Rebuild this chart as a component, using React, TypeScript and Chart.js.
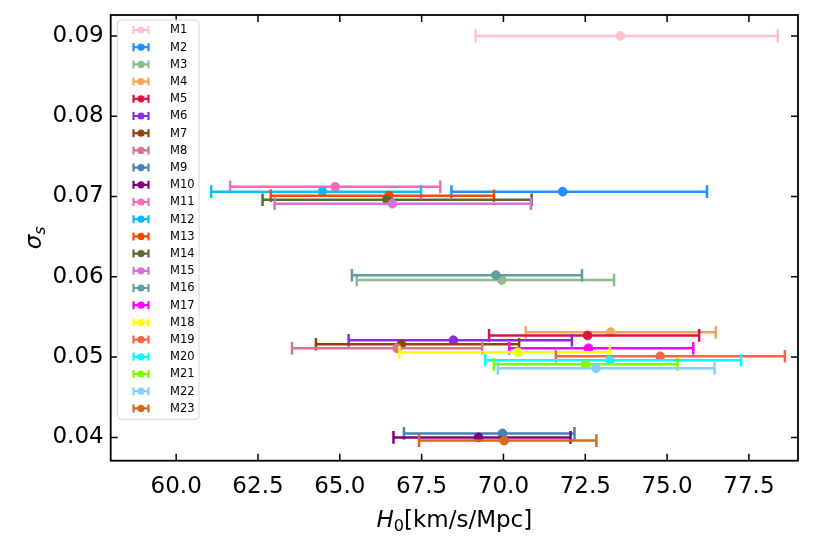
import { useEffect, useRef } from "react";
import { Chart, registerables } from "chart.js";

Chart.register(...registerables);

const labels = ["M1","M2","M3","M4","M5","M6","M7","M8","M9","M10","M11","M12","M13","M14","M15","M16","M17","M18","M19","M20","M21","M22","M23"];
const h0Values = [73.57,71.81,69.95,73.28,72.57,68.47,66.88,66.75,69.97,69.24,64.86,64.47,66.50,66.44,66.61,69.77,72.60,70.44,74.79,73.25,72.51,72.83,70.02];
const h0Lower = [69.15,68.41,65.52,70.68,69.56,65.27,64.27,63.54,66.96,66.64,61.65,61.07,62.89,62.64,63.01,65.37,70.18,66.82,71.60,69.44,69.71,69.83,67.42];
const h0Upper = [78.38,76.22,73.38,76.49,75.98,72.09,70.48,69.35,72.17,72.05,68.07,67.48,69.71,70.86,70.84,72.40,75.80,73.25,78.60,77.26,75.32,76.45,72.84];
const sigmaValues = [0.0900,0.0706,0.0596,0.0531,0.0527,0.0521,0.0516,0.0511,0.0405,0.0400,0.0712,0.0706,0.0701,0.0696,0.0691,0.0602,0.0511,0.0506,0.0501,0.0496,0.0491,0.0486,0.0396];
const colors = ["#FFC0CB","#1E90FF","#8FBC8F","#F4A460","#DC143C","#8A2BE2","#8B4513","#DB7093","#4682B4","#800080","#FF69B4","#00BFFF","#FF4500","#556B2F","#DA70D6","#5F9EA0","#FF00FF","#FFFF00","#FF6347","#00FFFF","#7CFC00","#87CEFA","#D2691E"];
const xTicks = [60, 62.5, 65, 67.5, 70, 72.5, 75, 77.5];
const yTicks = [0.04, 0.05, 0.06, 0.07, 0.08, 0.09];

const FONT = "'DejaVu Sans', sans-serif";

const decorPlugin = {
  id: "decor",
  afterDraw(chart: any) {
    const ctx: CanvasRenderingContext2D = chart.ctx;
    const ca = chart.chartArea;
    const xs = chart.scales.x;
    const ys = chart.scales.y;
    ctx.save();
    // ticks (inward, all sides)
    ctx.strokeStyle = "#000";
    ctx.lineWidth = 1.5;
    const tl = 7;
    ctx.beginPath();
    xTicks.forEach((v) => {
      const px = xs.getPixelForValue(v);
      ctx.moveTo(px, ca.bottom);
      ctx.lineTo(px, ca.bottom - tl);
      ctx.moveTo(px, ca.top);
      ctx.lineTo(px, ca.top + tl);
    });
    yTicks.forEach((v) => {
      const py = ys.getPixelForValue(v);
      ctx.moveTo(ca.left, py);
      ctx.lineTo(ca.left + tl, py);
      ctx.moveTo(ca.right, py);
      ctx.lineTo(ca.right - tl, py);
    });
    ctx.stroke();
    // frame
    ctx.lineWidth = 1.8;
    ctx.strokeRect(ca.left, ca.top, ca.right - ca.left, ca.bottom - ca.top);

    // x title: H_0[km/s/Mpc]
    ctx.fillStyle = "#000";
    ctx.textBaseline = "alphabetic";
    ctx.textAlign = "left";
    const big = 23, small = 16;
    ctx.font = `italic ${big}px ${FONT}`;
    const wH = ctx.measureText("H").width;
    ctx.font = `${small}px ${FONT}`;
    const w0 = ctx.measureText("0").width;
    ctx.font = `${big}px ${FONT}`;
    const wRest = ctx.measureText("[km/s/Mpc]").width;
    const total = wH + w0 + wRest;
    const cx = (ca.left + ca.right) / 2;
    let x0 = cx - total / 2;
    const base = 527;
    ctx.font = `italic ${big}px ${FONT}`;
    ctx.fillText("H", x0, base);
    x0 += wH;
    ctx.font = `${small}px ${FONT}`;
    ctx.fillText("0", x0, base + 4);
    x0 += w0;
    ctx.font = `${big}px ${FONT}`;
    ctx.fillText("[km/s/Mpc]", x0, base);

    // y title: sigma_s
    ctx.save();
    const cy = (ca.top + ca.bottom) / 2;
    ctx.translate(41, cy);
    ctx.rotate(-Math.PI / 2);
    ctx.font = `italic ${big}px ${FONT}`;
    const ws = ctx.measureText("σ").width;
    ctx.font = `italic ${small}px ${FONT}`;
    const wss = ctx.measureText("s").width;
    let sx = -(ws + wss) / 2;
    ctx.font = `italic ${big}px ${FONT}`;
    ctx.fillText("σ", sx, 0);
    sx += ws;
    ctx.font = `italic ${small}px ${FONT}`;
    ctx.fillText("s", sx, 4);
    ctx.restore();

    // legend
    const lx = 117.3, ly = 20, lw = 81.7, lh = 399.3, r = 4;
    ctx.beginPath();
    ctx.moveTo(lx + r, ly);
    ctx.lineTo(lx + lw - r, ly);
    ctx.quadraticCurveTo(lx + lw, ly, lx + lw, ly + r);
    ctx.lineTo(lx + lw, ly + lh - r);
    ctx.quadraticCurveTo(lx + lw, ly + lh, lx + lw - r, ly + lh);
    ctx.lineTo(lx + r, ly + lh);
    ctx.quadraticCurveTo(lx, ly + lh, lx, ly + lh - r);
    ctx.lineTo(lx, ly + r);
    ctx.quadraticCurveTo(lx, ly, lx + r, ly);
    ctx.closePath();
    ctx.fillStyle = "rgba(255,255,255,0.8)";
    ctx.fill();
    ctx.strokeStyle = "#d4d4d4";
    ctx.lineWidth = 1;
    ctx.stroke();
    chart.data.datasets.forEach((ds: any, i: number) => {
      const y = 30 + i * 17.2;
      const c = ds.borderColor;
      ctx.strokeStyle = c;
      ctx.fillStyle = c;
      ctx.lineWidth = 2.2;
      ctx.beginPath();
      ctx.moveTo(133.5, y);
      ctx.lineTo(148.5, y);
      ctx.moveTo(133.5, y - 4);
      ctx.lineTo(133.5, y + 4);
      ctx.moveTo(148.5, y - 4);
      ctx.lineTo(148.5, y + 4);
      ctx.stroke();
      ctx.beginPath();
      ctx.arc(141, y, 3.6, 0, Math.PI * 2);
      ctx.fill();
      ctx.fillStyle = "#000";
      ctx.font = `11.5px ${FONT}`;
      ctx.textBaseline = "middle";
      ctx.fillText(ds.label, 170, y + 0.5);
    });
    ctx.restore();
  },
};

export default function App() {
  const ref = useRef<HTMLCanvasElement>(null);
  useEffect(() => {
    document.body.style.margin = "0";
    if (!ref.current) return;
    const datasets = labels.map((label, i) => ({
      label,
      data: [
        { x: h0Lower[i], y: sigmaValues[i] },
        { x: h0Values[i], y: sigmaValues[i] },
        { x: h0Upper[i], y: sigmaValues[i] },
      ],
      showLine: true,
      borderColor: colors[i],
      backgroundColor: colors[i],
      borderWidth: 2.5,
      pointStyle: ["line", "circle", "line"],
      pointRotation: [90, 0, 90],
      pointRadius: [6.3, 4.4, 6.3],
      pointBorderWidth: [2.5, 1, 2.5],
      pointBackgroundColor: colors[i],
      pointBorderColor: colors[i],
      order: labels.length - i,
    }));
    const chart = new Chart(ref.current, {
      type: "scatter",
      data: { datasets } as any,
      options: {
        animation: false,
        responsive: true,
        maintainAspectRatio: false,
        events: [],
        layout: { padding: { left: 0, top: 15, right: 16, bottom: 0 } },
        plugins: { legend: { display: false }, tooltip: { enabled: false } },
        scales: {
          x: {
            type: "linear",
            min: 58,
            max: 79,
            grid: { display: false, drawTicks: false },
            border: { display: false },
            afterBuildTicks: (s: any) => {
              s.ticks = xTicks.map((v) => ({ value: v }));
            },
            afterFit: (s: any) => {
              s.height = 89.3;
              s.paddingLeft = 0;
              s.paddingRight = 0;
            },
            ticks: {
              color: "#000",
              padding: 13,
              maxRotation: 0,
              autoSkip: false,
              font: { family: FONT, size: 23 },
              callback: (v: any) => Number(v).toFixed(1),
            },
          },
          y: {
            type: "linear",
            min: 0.0371,
            max: 0.0926,
            grid: { display: false, drawTicks: false },
            border: { display: false },
            afterBuildTicks: (s: any) => {
              s.ticks = yTicks.map((v) => ({ value: v }));
            },
            afterFit: (s: any) => {
              s.width = 110.7;
              s.paddingTop = 0;
              s.paddingBottom = 0;
            },
            ticks: {
              color: "#000",
              padding: 7,
              autoSkip: false,
              font: { family: FONT, size: 23 },
              callback: (v: any) => Number(v).toFixed(2),
            },
          },
        },
      } as any,
      plugins: [decorPlugin],
    });
    return () => chart.destroy();
  }, []);
  return (
    <div style={{ width: 814, height: 550, position: "relative" }}>
      <canvas ref={ref} />
    </div>
  );
}
